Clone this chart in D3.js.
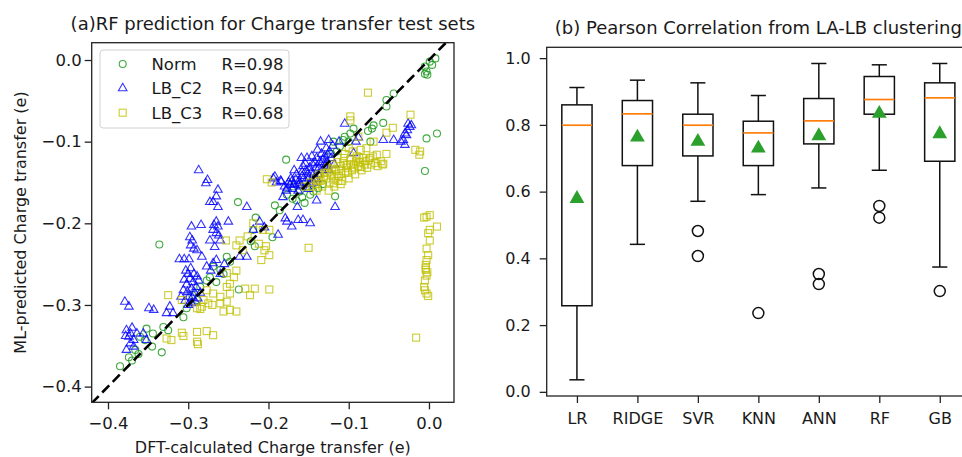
<!DOCTYPE html>
<meta charset="utf-8">
<script src="https://d3js.org/d3.v7.min.js"></script>
<style>
  body { margin: 0; background: #fff; }
  text { font-family: "DejaVu Sans", sans-serif; fill: #1a1a1a; }
</style>
<div id="chart"></div>

<script>

    // ---- panel (a) data: [DFT, ML] pairs ----
    const normPts = [
        [0.008,0.002],[0.001,-0.002],[0.004,-0.006],[-0.005,-0.008],[-0.003,-0.014],[-0.005,-0.017],[-0.002,-0.018],
        [-0.044,-0.041],[-0.053,-0.049],[-0.053,-0.057],
        [0.010,-0.090],[-0.003,-0.096],[-0.005,-0.136],
        [-0.057,-0.077],[-0.069,-0.080],[-0.071,-0.084],[-0.076,-0.087],[-0.073,-0.100],
        [-0.094,-0.084],[-0.098,-0.090],[-0.105,-0.094],[-0.107,-0.098],[-0.111,-0.106],[-0.119,-0.100],
        [-0.115,-0.112],[-0.122,-0.115],[-0.100,-0.100],
        [-0.178,-0.122],[-0.117,-0.167],
        [-0.177,-0.165],[-0.169,-0.155],[-0.161,-0.161],[-0.152,-0.155],[-0.144,-0.161],[-0.165,-0.172],
        [-0.158,-0.168],[-0.148,-0.165],[-0.138,-0.157],[-0.132,-0.152],[-0.155,-0.175],[-0.170,-0.170],
        [-0.192,-0.178],[-0.186,-0.184],[-0.238,-0.174],
        [-0.216,-0.193],[-0.219,-0.208],[-0.195,-0.217],[-0.336,-0.226],[-0.217,-0.228],[-0.222,-0.222],
        [-0.252,-0.241],[-0.248,-0.247],[-0.269,-0.253],[-0.260,-0.257],[-0.273,-0.266],[-0.277,-0.270],
        [-0.285,-0.278],[-0.237,-0.281],[-0.256,-0.262],[-0.265,-0.272],
        [-0.289,-0.294],[-0.306,-0.315],[-0.302,-0.304],[-0.295,-0.288],
        [-0.331,-0.327],[-0.325,-0.331],[-0.333,-0.358],[-0.344,-0.335],[-0.352,-0.329],[-0.354,-0.343],
        [-0.345,-0.351],[-0.360,-0.339],[-0.366,-0.355],[-0.374,-0.364],[-0.370,-0.368],[-0.385,-0.375],[-0.362,-0.360]
    ];

    const c2Pts = [
        [-0.026,-0.078],[-0.024,-0.082],[-0.027,-0.086],[-0.022,-0.080],[-0.030,-0.090],[-0.028,-0.092],
        [-0.032,-0.098],[-0.030,-0.104],[-0.035,-0.100],[-0.044,-0.098],[-0.057,-0.098],[-0.105,-0.078],
        [-0.094,-0.114],[-0.088,-0.095],[-0.112,-0.100],[-0.117,-0.180],[-0.125,-0.098],[-0.091,-0.100],
        [-0.175,-0.150],[-0.172,-0.145],[-0.168,-0.152],[-0.165,-0.140],[-0.162,-0.148],[-0.160,-0.155],
        [-0.158,-0.142],[-0.155,-0.150],[-0.153,-0.135],[-0.150,-0.145],[-0.148,-0.152],[-0.147,-0.138],
        [-0.145,-0.128],[-0.143,-0.145],[-0.141,-0.132],[-0.140,-0.120],[-0.138,-0.140],[-0.136,-0.125],
        [-0.134,-0.115],[-0.133,-0.135],[-0.131,-0.128],[-0.130,-0.118],[-0.128,-0.108],[-0.127,-0.125],
        [-0.125,-0.135],[-0.124,-0.112],[-0.122,-0.120],[-0.120,-0.105],[-0.118,-0.128],[-0.180,-0.155],
        [-0.185,-0.148],[-0.178,-0.160],[-0.170,-0.158],[-0.163,-0.160],[-0.157,-0.130],[-0.152,-0.120],
        [-0.146,-0.118],[-0.139,-0.110],[-0.135,-0.100],[-0.150,-0.158],[-0.168,-0.135],[-0.144,-0.150],
        [-0.159,-0.120],[-0.190,-0.150],[-0.194,-0.145],[-0.184,-0.149],[-0.177,-0.157],[-0.182,-0.168],
        [-0.173,-0.153],[-0.166,-0.146],[-0.161,-0.151],[-0.156,-0.145],[-0.151,-0.140],[-0.149,-0.132],
        [-0.144,-0.140],[-0.142,-0.126],[-0.137,-0.132],[-0.132,-0.122],[-0.129,-0.130],[-0.126,-0.116],
        [-0.154,-0.127],[-0.163,-0.153],[-0.171,-0.149],[-0.146,-0.146],[-0.140,-0.146],[-0.158,-0.137],
        [-0.164,-0.180],[-0.192,-0.143],[-0.163,-0.196],[-0.148,-0.200],[-0.157,-0.196],[-0.177,-0.198],
        [-0.171,-0.204],[-0.188,-0.214],[-0.211,-0.198],[-0.219,-0.208],[-0.227,-0.241],[-0.236,-0.241],
        [-0.205,-0.205],[-0.140,-0.172],[-0.179,-0.194],
        [-0.287,-0.135],[-0.276,-0.147],[-0.278,-0.151],[-0.263,-0.159],[-0.265,-0.167],[-0.269,-0.174],
        [-0.273,-0.174],[-0.263,-0.180],[-0.227,-0.180],
        [-0.250,-0.198],[-0.265,-0.198],[-0.263,-0.204],[-0.269,-0.208],[-0.265,-0.212],[-0.273,-0.221],
        [-0.267,-0.229],[-0.260,-0.221],[-0.262,-0.215],[-0.268,-0.202],
        [-0.284,-0.202],[-0.296,-0.204],[-0.298,-0.217],[-0.295,-0.221],[-0.297,-0.227],[-0.293,-0.231],
        [-0.289,-0.233],[-0.311,-0.244],[-0.305,-0.244],[-0.299,-0.244],
        [-0.283,-0.241],[-0.277,-0.253],[-0.269,-0.249],[-0.265,-0.245],[-0.272,-0.258],[-0.260,-0.262],[-0.255,-0.250],
        [-0.300,-0.262],[-0.298,-0.268],[-0.302,-0.275],[-0.296,-0.280],[-0.294,-0.272],[-0.292,-0.285],
        [-0.290,-0.278],[-0.299,-0.290],[-0.304,-0.295],[-0.296,-0.298],[-0.288,-0.292],[-0.306,-0.282],
        [-0.300,-0.300],[-0.293,-0.262],[-0.287,-0.270],[-0.309,-0.290],[-0.285,-0.285],[-0.303,-0.258],
        [-0.297,-0.255],[-0.291,-0.296],[-0.301,-0.284],[-0.295,-0.291],[-0.305,-0.269],[-0.289,-0.265],
        [-0.323,-0.302],[-0.319,-0.310],[-0.327,-0.310],[-0.349,-0.304],[-0.343,-0.306],[-0.379,-0.296],
        [-0.374,-0.302],[-0.377,-0.331],[-0.372,-0.335],[-0.374,-0.339],[-0.368,-0.343],[-0.364,-0.335],
        [-0.372,-0.347],[-0.377,-0.355],[-0.368,-0.351],[-0.356,-0.335],[-0.352,-0.343],[-0.378,-0.338],[-0.370,-0.328]
    ];

    const c3Pts = [
        [-0.076,-0.040],[-0.023,-0.067],[-0.098,-0.069],[-0.098,-0.074],[-0.045,-0.083],[-0.053,-0.089],
        [-0.069,-0.100],[-0.053,-0.115],[-0.017,-0.110],[-0.011,-0.112],[-0.012,-0.116],[-0.088,-0.094],
        [-0.085,-0.110],[-0.065,-0.116],[-0.057,-0.127],[-0.078,-0.108],
        [-0.148,-0.150],[-0.145,-0.155],[-0.142,-0.145],[-0.140,-0.152],[-0.137,-0.140],[-0.135,-0.148],
        [-0.133,-0.155],[-0.130,-0.138],[-0.128,-0.145],[-0.126,-0.132],[-0.124,-0.150],[-0.122,-0.140],
        [-0.120,-0.128],[-0.118,-0.145],[-0.116,-0.135],[-0.114,-0.125],[-0.112,-0.142],[-0.110,-0.130],
        [-0.108,-0.148],[-0.106,-0.120],[-0.104,-0.138],[-0.102,-0.128],[-0.100,-0.145],[-0.098,-0.122],
        [-0.096,-0.135],[-0.094,-0.128],[-0.092,-0.140],[-0.090,-0.118],[-0.088,-0.130],[-0.086,-0.125],
        [-0.084,-0.135],[-0.082,-0.120],[-0.080,-0.128],[-0.077,-0.132],[-0.075,-0.122],[-0.072,-0.128],
        [-0.070,-0.118],[-0.067,-0.126],[-0.064,-0.130],[-0.060,-0.124],[-0.058,-0.128],[-0.125,-0.160],
        [-0.140,-0.160],[-0.155,-0.155],[-0.118,-0.155],[-0.110,-0.152],[-0.100,-0.108],[-0.095,-0.112],[-0.105,-0.115],
        [-0.138,-0.148],[-0.131,-0.143],[-0.127,-0.138],[-0.121,-0.134],[-0.115,-0.140],[-0.109,-0.136],
        [-0.103,-0.132],[-0.097,-0.128],[-0.091,-0.124],[-0.085,-0.131],[-0.079,-0.124],[-0.073,-0.120],
        [-0.113,-0.148],[-0.119,-0.151],[-0.107,-0.126],[-0.101,-0.138],[-0.093,-0.133],[-0.087,-0.120],
        [-0.202,-0.146],[-0.196,-0.150],
        [-0.003,-0.192],[0.001,-0.190],[-0.006,-0.193],[0.010,-0.204],[0.001,-0.208],[-0.001,-0.212],
        [0.001,-0.221],[-0.003,-0.231],[-0.001,-0.239],[-0.003,-0.245],[-0.004,-0.251],[-0.004,-0.255],
        [-0.004,-0.257],[-0.003,-0.264],[-0.005,-0.270],[-0.006,-0.278],[-0.005,-0.282],[-0.003,-0.286],
        [-0.001,-0.289],[-0.002,-0.260],[-0.016,-0.340],
        [-0.150,-0.230],
        [-0.219,-0.200],[-0.207,-0.208],[-0.199,-0.208],[-0.205,-0.233],[-0.199,-0.239],[-0.209,-0.245],
        [-0.212,-0.225],[-0.203,-0.228],
        [-0.253,-0.221],[-0.236,-0.221],[-0.240,-0.227],[-0.232,-0.233],[-0.226,-0.216],
        [-0.229,-0.280],[-0.217,-0.280],[-0.223,-0.288],[-0.199,-0.281],
        [-0.252,-0.261],[-0.243,-0.266],[-0.248,-0.274],[-0.252,-0.278],[-0.248,-0.286],[-0.240,-0.258],
        [-0.277,-0.282],[-0.269,-0.286],[-0.260,-0.290],[-0.281,-0.294],[-0.275,-0.298],[-0.283,-0.302],
        [-0.289,-0.304],[-0.260,-0.298],[-0.252,-0.296],[-0.248,-0.306],[-0.256,-0.308],[-0.240,-0.308],
        [-0.325,-0.288],[-0.308,-0.294],[-0.270,-0.300],[-0.285,-0.305],
        [-0.308,-0.334],[-0.306,-0.338],[-0.289,-0.333],[-0.277,-0.332],[-0.269,-0.337],[-0.289,-0.345],
        [-0.288,-0.348],[-0.327,-0.341],[-0.321,-0.343]
    ];

    const seriesNames = ["Norm", "LB_C2", "LB_C3"];
    const seriesR = ["R=0.98", "R=0.94", "R=0.68"];
    const xTicksA = [-0.4, -0.3, -0.2, -0.1, 0.0];
    const yTicksA = [0.0, -0.1, -0.2, -0.3, -0.4];

    // ---- panel (b) data: box statistics per model ----
    const models  = ["LR", "RIDGE", "SVR", "KNN", "ANN", "RF", "GB"];
    const whiskLo = [0.036, 0.442, 0.571, 0.591, 0.611, 0.664, 0.374];
    const q1      = [0.258, 0.678, 0.707, 0.678, 0.743, 0.832, 0.691];
    const median  = [0.799, 0.833, 0.799, 0.776, 0.812, 0.876, 0.881];
    const q3      = [0.860, 0.873, 0.832, 0.811, 0.879, 0.945, 0.926];
    const whiskHi = [0.912, 0.934, 0.926, 0.888, 0.984, 0.980, 0.984];
    const means   = [0.582, 0.766, 0.753, 0.733, 0.770, 0.837, 0.776];
    const fliers  = [[], [], [0.482, 0.407], [0.236], [0.353, 0.323], [0.557, 0.522], [0.302]];
    const yTicksB = [0.0, 0.2, 0.4, 0.6, 0.8, 1.0];

    const W = 962, H = 457;
    const svg = d3.select("#chart").append("svg")
        .attr("width", W).attr("height", H);

    const fmtMinus = d => d3.format(".1f")(d).replace("-", "\u2212");

    const green = "#1f9a1f", blue = "#0000ff", olive = "#bfbf00";

    // ================= panel (a) =================
    const A = {left: 91.7, right: 454, top: 42.7, bottom: 402.3};
    const xa = d3.scaleLinear().domain([-0.4203, 0.0312]).range([A.left, A.right]);
    const ya = d3.scaleLinear().domain([-0.4192, 0.0212]).range([A.bottom, A.top]);

    const ga = svg.append("g");
    ga.append("clipPath").attr("id", "clipA")
        .append("rect").attr("x", A.left).attr("y", A.top)
        .attr("width", A.right - A.left).attr("height", A.bottom - A.top);

    const plotA = ga.append("g").attr("clip-path", "url(#clipA)");

    const tri = d3.symbol().type(d3.symbolTriangle).size(32);
    const sq = 7;

    plotA.append("g").selectAll("circle")
        .data(normPts)
        .join("circle")
        .attr("cx", d => xa(d[0]))
        .attr("cy", d => ya(d[1]))
        .attr("r", 3.5)
        .style("fill", "none")
        .style("stroke", green)
        .style("stroke-width", 1.1)
        .style("opacity", 0.85);

    plotA.append("g").selectAll("path")
        .data(c2Pts)
        .join("path")
        .attr("d", tri)
        .attr("transform", d => `translate(${xa(d[0])},${ya(d[1])})`)
        .style("fill", "none")
        .style("stroke", blue)
        .style("stroke-width", 1.1)
        .style("opacity", 0.8);

    plotA.append("g").selectAll("rect")
        .data(c3Pts)
        .join("rect")
        .attr("x", d => xa(d[0]) - sq / 2)
        .attr("y", d => ya(d[1]) - sq / 2)
        .attr("width", sq).attr("height", sq)
        .style("fill", "none")
        .style("stroke", olive)
        .style("stroke-width", 1.1)
        .style("opacity", 0.8);

    // identity line
    plotA.append("line")
        .attr("x1", xa(-0.4203)).attr("y1", ya(-0.4203))
        .attr("x2", xa(0.0312)).attr("y2", ya(0.0312))
        .style("stroke", "#000")
        .style("stroke-width", 2.6)
        .style("stroke-dasharray", "10,5");

    // axes
    const axA_x = ga.append("g")
        .attr("transform", `translate(0,${A.bottom})`)
        .call(d3.axisBottom(xa).tickValues(xTicksA).tickFormat(fmtMinus).tickSize(7).tickPadding(8));
    const axA_y = ga.append("g")
        .attr("transform", `translate(${A.left},0)`)
        .call(d3.axisLeft(ya).tickValues(yTicksA).tickFormat(fmtMinus).tickSize(7).tickPadding(3));
    [axA_x, axA_y].forEach(g => {
        g.select(".domain").remove();
        g.selectAll("line").style("stroke", "#222").style("stroke-width", 1.3);
        g.selectAll("text").style("font-size", "16.5px").style("fill", "#1a1a1a");
    });

    ga.append("rect")
        .attr("x", A.left).attr("y", A.top)
        .attr("width", A.right - A.left).attr("height", A.bottom - A.top)
        .style("fill", "none").style("stroke", "#222").style("stroke-width", 1.3);

    // legend
    const lg = ga.append("g");
    lg.append("rect")
        .attr("x", 100).attr("y", 50).attr("width", 189).attr("height", 78)
        .attr("rx", 3)
        .style("fill", "#fff").style("fill-opacity", 0.85)
        .style("stroke", "#d0d0d0").style("stroke-width", 1);
    const rowY = [64, 88.3, 112.7];
    lg.append("circle").attr("cx", 122.7).attr("cy", rowY[0]).attr("r", 3.5)
        .style("fill", "none").style("stroke", green).style("stroke-width", 1.1).style("opacity", 0.85);
    lg.append("path").attr("d", tri).attr("transform", `translate(122.7,${rowY[1]})`)
        .style("fill", "none").style("stroke", blue).style("stroke-width", 1.1).style("opacity", 0.8);
    lg.append("rect").attr("x", 122.7 - sq / 2).attr("y", rowY[2] - sq / 2).attr("width", sq).attr("height", sq)
        .style("fill", "none").style("stroke", olive).style("stroke-width", 1.1).style("opacity", 0.8);
    seriesNames.forEach((n, i) => {
        lg.append("text").attr("x", 151.5).attr("y", rowY[i]).attr("dy", "0.36em")
            .style("font-size", "16.5px").text(n);
        lg.append("text").attr("x", 221.5).attr("y", rowY[i]).attr("dy", "0.36em")
            .style("font-size", "16.5px").text(seriesR[i]);
    });

    ga.append("text")
        .attr("x", (A.left + A.right) / 2).attr("y", 30)
        .attr("text-anchor", "middle")
        .style("font-size", "18px")
        .text("(a)RF prediction for Charge transfer test sets");
    ga.append("text")
        .attr("x", (A.left + A.right) / 2).attr("y", 453)
        .attr("text-anchor", "middle")
        .style("font-size", "16px")
        .text("DFT-calculated Charge transfer (e)");
    ga.append("text")
        .attr("transform", `translate(26,${(A.top + A.bottom) / 2}) rotate(-90)`)
        .attr("text-anchor", "middle")
        .style("font-size", "16px")
        .text("ML-predicted Charge transfer (e)");

    // ================= panel (b) =================
    const B = {left: 546.7, right: 970, top: 47.3, bottom: 396};
    const xb = d3.scaleLinear().domain([0.5, 7.5]).range([B.left, B.right]);
    const yb = d3.scaleLinear().domain([-0.0125, 1.0325]).range([B.bottom, B.top]);
    const bw = xb(1.25) - xb(1);   // half of box width (0.5)
    const cw = bw / 2;             // half of cap width

    const gb = svg.append("g");

    const boxes = gb.append("g").selectAll("g")
        .data(models)
        .join("g");

    boxes.append("line")
        .attr("x1", (d, i) => xb(i + 1)).attr("x2", (d, i) => xb(i + 1))
        .attr("y1", (d, i) => yb(q3[i])).attr("y2", (d, i) => yb(whiskHi[i]));
    boxes.append("line")
        .attr("x1", (d, i) => xb(i + 1)).attr("x2", (d, i) => xb(i + 1))
        .attr("y1", (d, i) => yb(q1[i])).attr("y2", (d, i) => yb(whiskLo[i]));
    boxes.append("line")
        .attr("x1", (d, i) => xb(i + 1) - cw).attr("x2", (d, i) => xb(i + 1) + cw)
        .attr("y1", (d, i) => yb(whiskHi[i])).attr("y2", (d, i) => yb(whiskHi[i]));
    boxes.append("line")
        .attr("x1", (d, i) => xb(i + 1) - cw).attr("x2", (d, i) => xb(i + 1) + cw)
        .attr("y1", (d, i) => yb(whiskLo[i])).attr("y2", (d, i) => yb(whiskLo[i]));
    boxes.selectAll("line").style("stroke", "#111").style("stroke-width", 1.5);

    boxes.append("rect")
        .attr("x", (d, i) => xb(i + 1) - bw)
        .attr("y", (d, i) => yb(q3[i]))
        .attr("width", 2 * bw)
        .attr("height", (d, i) => yb(q1[i]) - yb(q3[i]))
        .style("fill", "none").style("stroke", "#111").style("stroke-width", 1.5);

    boxes.append("line")
        .attr("x1", (d, i) => xb(i + 1) - bw).attr("x2", (d, i) => xb(i + 1) + bw)
        .attr("y1", (d, i) => yb(median[i])).attr("y2", (d, i) => yb(median[i]))
        .style("stroke", "#ff7f0e").style("stroke-width", 1.7);

    boxes.each(function (d, i) {
        d3.select(this).selectAll("circle.flier")
            .data(fliers[i])
            .join("circle")
            .attr("class", "flier")
            .attr("cx", xb(i + 1))
            .attr("cy", v => yb(v))
            .attr("r", 5.5)
            .style("fill", "none").style("stroke", "#111").style("stroke-width", 1.5);
    });

    const meanTri = d3.symbol().type(d3.symbolTriangle).size(95);
    boxes.append("path")
        .attr("d", meanTri)
        .attr("transform", (d, i) => `translate(${xb(i + 1)},${yb(means[i]) + 1})`)
        .style("fill", "#2ca02c");

    const axB_x = gb.append("g")
        .attr("transform", `translate(0,${B.bottom})`)
        .call(d3.axisBottom(xb).tickValues(d3.range(1, 8)).tickFormat(d => models[d - 1]).tickSize(7).tickPadding(10));
    const axB_y = gb.append("g")
        .attr("transform", `translate(${B.left},0)`)
        .call(d3.axisLeft(yb).tickValues(yTicksB).tickFormat(d3.format(".1f")).tickSize(7).tickPadding(9));
    [axB_x, axB_y].forEach(g => {
        g.select(".domain").remove();
        g.selectAll("line").style("stroke", "#222").style("stroke-width", 1.3);
        g.selectAll("text").style("font-size", "16px").style("fill", "#1a1a1a");
    });

    gb.append("rect")
        .attr("x", B.left).attr("y", B.top)
        .attr("width", B.right - B.left).attr("height", B.bottom - B.top)
        .style("fill", "none").style("stroke", "#222").style("stroke-width", 1.3);

    gb.append("text")
        .attr("x", (B.left + B.right) / 2).attr("y", 34)
        .attr("text-anchor", "middle")
        .style("font-size", "18px")
        .text("(b) Pearson Correlation from LA-LB clustering");

</script>
